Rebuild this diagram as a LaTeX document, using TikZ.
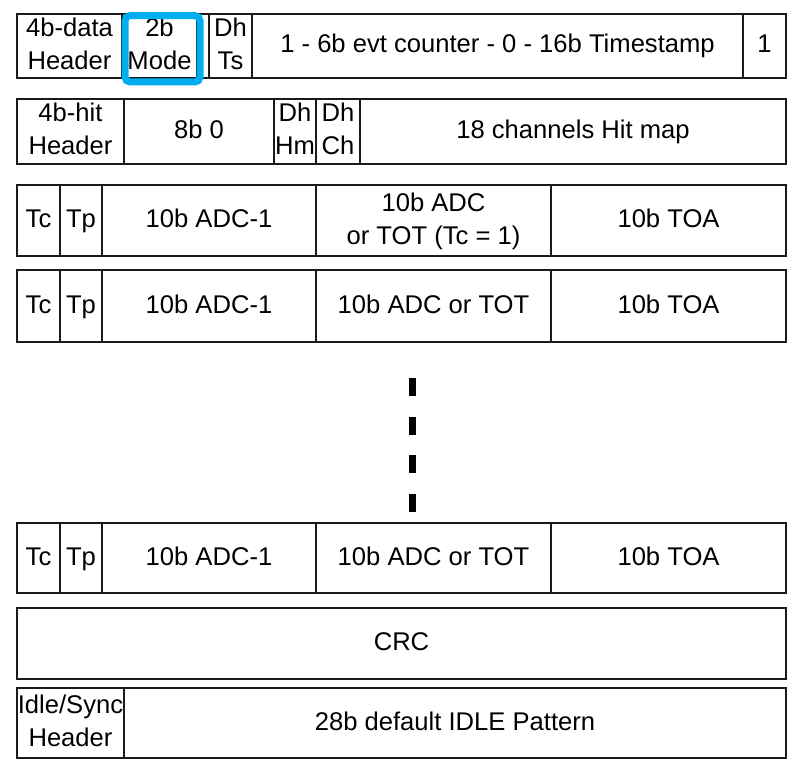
\documentclass[tikz,border=0pt]{standalone}
\usepackage{fontspec}
\setmainfont{Liberation Sans}
\usetikzlibrary{fit}
\definecolor{hlBlue}{HTML}{00AEEF}
\definecolor{lineG}{HTML}{1A1A1A}
\newcommand{\cellstrut}{\rule[-3.2pt]{0pt}{13.4pt}}

\begin{document}
\begin{tikzpicture}[
  x=0.5pt, y=-0.5pt,
  celltext/.style={
    inner sep=0pt, align=center, text=black,
    font=\fontsize{12.8}{16.5}\selectfont
  },
  cell/.style={
    draw=lineG, line width=1pt, inner sep=0pt,
    label={[celltext]center:{\cellstrut#1\cellstrut}}
  },
  cell/.default={},
  hilite/.style={
    draw=hlBlue, line width=3.5pt,
    rounded corners=2.5pt, inner sep=0pt
  },
  ellipsis/.style={
    line width=3.5pt, black,
    dash pattern=on 9pt off 10.25pt
  },
]
\useasboundingbox (0,0) rectangle (795,764);

%% ═══ DATA HEADER WORD ═══
\node[cell={4b-data\\Header}, fit={(17,14)(122,78)}] (dhdr) {};
\node[cell={2b\\Mode}, fit={(122,14)(197,78)}] (mode) {};
\node[cell, fit={(197,14)(209,78)}] (gapc) {};
\node[cell={Dh\\Ts}, fit={(209,14)(252,78)}] (dhts) {};
\node[cell={1 - 6b evt counter - 0 - 16b Timestamp}, fit={(252,14)(743,78)}] (evt) {};
\node[cell={1}, fit={(743,14)(786,78)}] (one) {};
\node[hilite, fit={(125,15.7)(200,82)}] (modehl) {};

%% ═══ HIT HEADER WORD ═══
\node[cell={4b-hit\\Header}, fit={(17,99)(124,164)}] (hhdr) {};
\node[cell={8b 0}, fit={(124,99)(274,164)}] (zero) {};
\node[cell={Dh\\Hm}, fit={(274,99)(316,164)}] (dhhm) {};
\node[cell={Dh\\Ch}, fit={(316,99)(360,164)}] (dhch) {};
\node[cell={18 channels Hit map}, fit={(360,99)(786,164)}] (hmap) {};

%% ═══ HIT WORDS ═══
\node[cell={Tc}, fit={(17,185)(60,256)}] (tca) {};
\node[cell={Tp}, fit={(60,185)(102,256)}] (tpa) {};
\node[cell={10b ADC-1}, fit={(102,185)(316,256)}] (adca) {};
\node[cell={10b ADC\\or TOT (Tc = 1)}, fit={(316,185)(551,256)}] (tota) {};
\node[cell={10b TOA}, fit={(551,185)(786,256)}] (toaa) {};

\node[cell={Tc}, fit={(17,270)(60,342)}] (tcb) {};
\node[cell={Tp}, fit={(60,270)(102,342)}] (tpb) {};
\node[cell={10b ADC-1}, fit={(102,270)(316,342)}] (adcb) {};
\node[cell={10b ADC or TOT}, fit={(316,270)(551,342)}] (totb) {};
\node[cell={10b TOA}, fit={(551,270)(786,342)}] (toab) {};

%% ═══ ELLIPSIS ═══
\coordinate (dtop) at (412,378);
\coordinate (dbot) at (412,512);
\draw[ellipsis] (dtop) -- (dbot);

\node[cell={Tc}, fit={(17,523)(60,593)}] (tcn) {};
\node[cell={Tp}, fit={(60,523)(102,593)}] (tpn) {};
\node[cell={10b ADC-1}, fit={(102,523)(316,593)}] (adcn) {};
\node[cell={10b ADC or TOT}, fit={(316,523)(551,593)}] (totn) {};
\node[cell={10b TOA}, fit={(551,523)(786,593)}] (toan) {};

%% ═══ CRC + IDLE ═══
\node[cell={CRC}, fit={(17,608)(786,679)}] (crc) {};

\node[cell={Idle/Sync\\Header}, fit={(17,688)(124,758)}] (ihdr) {};
\node[cell={28b default IDLE Pattern}, fit={(124,688)(786,758)}] (idle) {};

\end{tikzpicture}
\end{document}
